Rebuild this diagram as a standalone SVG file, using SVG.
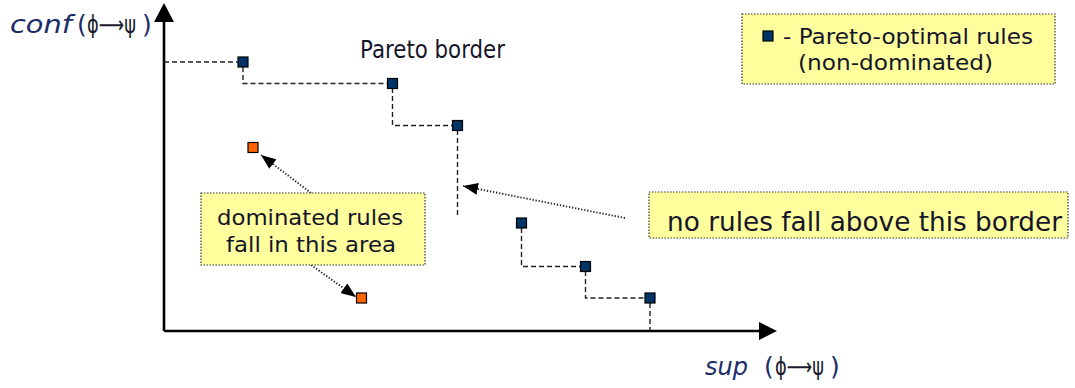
<svg xmlns="http://www.w3.org/2000/svg" width="1075" height="388" viewBox="0 0 1075 388">
  <style>
    .axis { stroke: #000; stroke-width: 2.6; fill: none; }
    .head { fill: #000; stroke: none; }
    .step { stroke: #222; stroke-width: 1.4; fill: none; stroke-dasharray: 5 3; }
    .pointer { stroke: #222; stroke-width: 1.9; fill: none; stroke-dasharray: 1.3 1.8; }
    .optimal { fill: #003366; stroke: #000; stroke-width: 1.2; }
    .dominated { fill: #ff6600; stroke: #000; stroke-width: 1.2; }
    .note { fill: #ffff9e; stroke: #333; stroke-width: 1.2; stroke-dasharray: 1.5 1.5; }
    .txt { font-family: "DejaVu Sans", Verdana, sans-serif; fill: #15152a; }
    .lbl { font-family: "DejaVu Sans", Verdana, sans-serif; fill: #1c2c66; font-size: 25px; }
    .sym { fill: #1a1a2a; font-size: 24px; }
  </style>
  <defs>
    <marker id="tri" markerUnits="userSpaceOnUse" viewBox="0 0 15 12" refX="15" refY="6" markerWidth="15" markerHeight="12" orient="auto">
      <path d="M0,0 L15,6 L0,12 Z" fill="#000"/>
    </marker>
  </defs>

  <!-- axes -->
  <g id="axes">
    <line class="axis" x1="164" y1="331" x2="164" y2="18"/>
    <path class="head" d="M164,3 L174,22 L154,22 Z"/>
    <line class="axis" x1="164" y1="331" x2="762" y2="331"/>
    <path class="head" d="M777,331 L759,322 L759,340 Z"/>
    <text class="lbl" y="33"><tspan x="10" font-style="italic" textLength="62" lengthAdjust="spacingAndGlyphs">conf</tspan><tspan x="77">(</tspan><tspan x="87" class="sym" textLength="49" lengthAdjust="spacingAndGlyphs">ϕ⟶ψ</tspan><tspan x="142">)</tspan></text>
    <text class="lbl" y="375"><tspan x="705" font-style="italic" textLength="43" lengthAdjust="spacingAndGlyphs">sup</tspan><tspan x="764">(</tspan><tspan x="775" class="sym" textLength="49" lengthAdjust="spacingAndGlyphs">ϕ⟶ψ</tspan><tspan x="830">)</tspan></text>
  </g>

  <!-- connectors: border steps and note pointers -->
  <g id="connectors">
    <path class="step" d="M164,62 H243 M243,67 V83.5 H392.5 M392.5,88 V125.5 H457.5 M457.5,130 V218 M521.5,228 V266.5 H585.5 M585.5,271 V298 H650 M650,303 V330"/>
    <line class="pointer" x1="311" y1="193" x2="261" y2="155" marker-end="url(#tri)"/>
    <line class="pointer" x1="311" y1="265" x2="356" y2="297" marker-end="url(#tri)"/>
    <line class="pointer" x1="625" y1="218" x2="463" y2="186" marker-end="url(#tri)"/>
  </g>

  <!-- Pareto-optimal rules -->
  <g id="p1"><rect class="optimal" x="238" y="57" width="10" height="10"/></g>
  <g id="p2"><rect class="optimal" x="387.5" y="78.5" width="10" height="10"/></g>
  <g id="p3"><rect class="optimal" x="452.5" y="120.5" width="10" height="10"/></g>
  <g id="p4"><rect class="optimal" x="516.5" y="218" width="10" height="10"/></g>
  <g id="p5"><rect class="optimal" x="580.5" y="261.5" width="10" height="10"/></g>
  <g id="p6"><rect class="optimal" x="645" y="293" width="10" height="10"/></g>

  <!-- dominated rules -->
  <g id="d1"><rect class="dominated" x="248" y="142.5" width="10" height="10"/></g>
  <g id="d2"><rect class="dominated" x="356.5" y="293" width="10" height="10"/></g>

  <g id="border-label">
    <text class="txt" x="360" y="58" font-size="24" textLength="145" lengthAdjust="spacingAndGlyphs">Pareto border</text>
  </g>

  <g id="legend">
    <rect class="note" x="742" y="14" width="313" height="70"/>
    <rect class="optimal" x="763" y="31" width="10" height="10"/>
    <text class="txt" x="783" y="44" font-size="21" textLength="250" lengthAdjust="spacingAndGlyphs">- Pareto-optimal rules</text>
    <text class="txt" x="798" y="70" font-size="21" textLength="195" lengthAdjust="spacingAndGlyphs">(non-dominated)</text>
  </g>

  <g id="dominated-note">
    <rect class="note" x="201" y="193" width="224" height="72"/>
    <text class="txt" x="217" y="225" font-size="22" textLength="186" lengthAdjust="spacingAndGlyphs">dominated rules</text>
    <text class="txt" x="226" y="252" font-size="22" textLength="170" lengthAdjust="spacingAndGlyphs">fall in this area</text>
  </g>

  <g id="border-note">
    <rect class="note" x="649" y="192" width="419" height="46"/>
    <text class="txt" x="667" y="231" font-size="27" textLength="395" lengthAdjust="spacingAndGlyphs">no rules fall above this border</text>
  </g>
</svg>
